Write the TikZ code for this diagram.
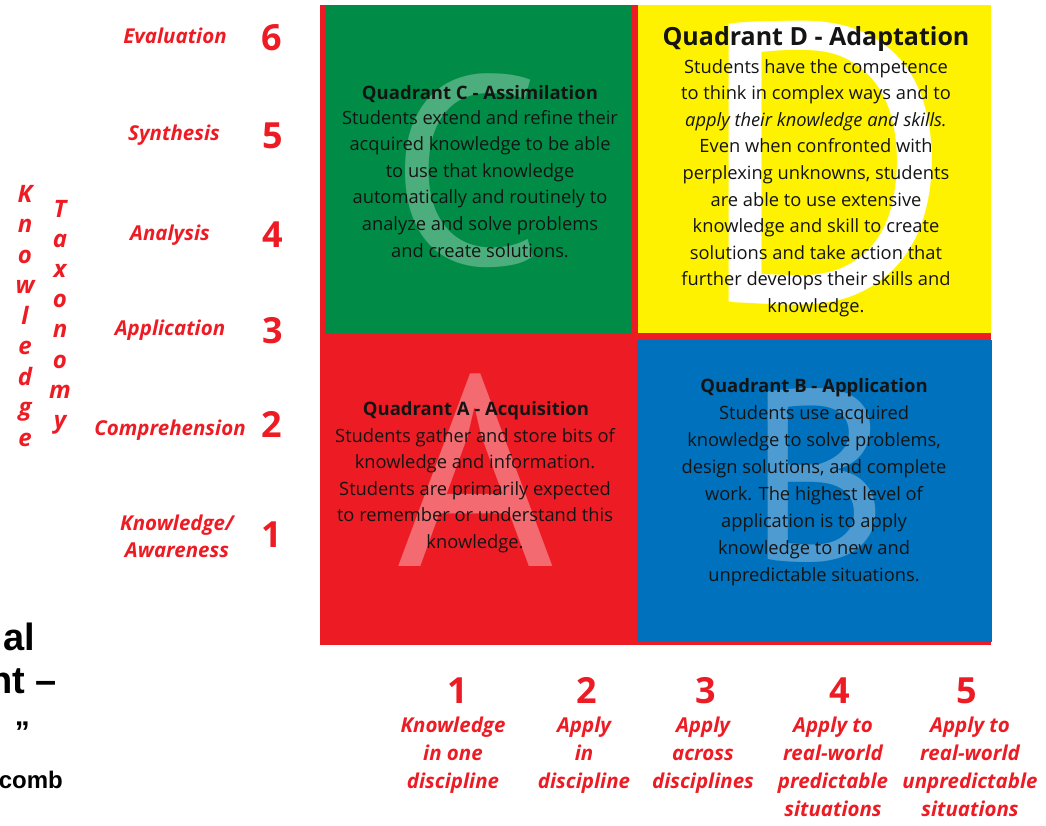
\documentclass[tikz,border=0pt]{standalone}
\usepackage{fontspec}
\setmainfont{Open Sans}
\newfontfamily\ptf{PT Sans}
\newfontfamily\arialf{Liberation Sans}
\definecolor{qred}{RGB}{237,28,36}
\definecolor{qgreen}{RGB}{0,140,70}
\definecolor{qyellow}{RGB}{255,242,0}
\definecolor{qblue}{RGB}{0,113,188}
\definecolor{qtext}{RGB}{20,20,20}
\begin{document}
\begin{tikzpicture}[x=1pt,y=-1pt,
  body/.style={anchor=base, inner sep=0, text=qtext, font=\fontsize{18.3}{20}\selectfont},
  qtitle/.style={anchor=base, inner sep=0, text=qtext},
  biglet/.style={inner sep=0, text=white},
  lvl/.style={anchor=base, inner sep=0, text=qred, font=\bfseries\itshape\fontsize{20.5}{24}\selectfont},
  num/.style={anchor=base, inner sep=0, text=qred, font=\bfseries\fontsize{36}{36}\selectfont},
  vlet/.style={anchor=base, inner sep=0, text=qred, font=\bfseries\itshape\fontsize{24}{24}\selectfont},
  side/.style={anchor=base east, inner sep=0, text=black}]
\clip (0,0) rectangle (1046,825);
% quadrants
\fill[qred] (320,5) rectangle (991,645);
\fill[qgreen] (325,5) rectangle (632,334);
\fill[qyellow] (638,5) rectangle (991,333);
\fill[qblue] (637,340) rectangle (992,642);
% big letters
\node[biglet, text opacity=0.3, font=\ptf\fontsize{268}{268}\selectfont] (bigc) at (467,171) {C};
\node[biglet, font=\ptf\fontsize{396}{396}\selectfont] (bigd) at (825,163) {D};
\node[biglet, text opacity=0.35, font=\ptf\fontsize{271}{271}\selectfont] (biga) at (476,470) {A};
\node[biglet, text opacity=0.3, font=\ptf\fontsize{243}{243}\selectfont] (bigb) at (818,475) {B};
% quadrant C
\node[qtitle, font=\bfseries\fontsize{18.5}{20}\selectfont] (ct) at (480,99) {Quadrant C - Assimilation};
\foreach \t [count=\i from 0] in {Students extend and refine their, acquired knowledge to be able, to use that knowledge, automatically and routinely to, analyze and solve problems, and create solutions.}
  \node[body] (c\i) at (480,124+26.6*\i) {\t};
% quadrant D
\node[qtitle, font=\bfseries\fontsize{25}{28}\selectfont] (dt) at (816,45) {Quadrant D - Adaptation};
\foreach \t [count=\i from 0] in {Students have the competence, to think in complex ways and to, \textit{apply their knowledge and skills.}, Even when confronted with, {perplexing unknowns, students}, are able to use extensive, knowledge and skill to create, solutions and take action that, further develops their skills and, knowledge.}
  \node[body] (d\i) at (816,73+26.6*\i) {\t};
% quadrant A
\node[qtitle, font=\bfseries\fontsize{18.5}{20}\selectfont] (at) at (476,415) {Quadrant A - Acquisition};
\foreach \t [count=\i from 0] in {Students gather and store bits of, knowledge and information., Students are primarily expected, to remember or understand this, knowledge.}
  \node[body] (a\i) at (475,442+26.5*\i) {\t};
% quadrant B
\node[qtitle, font=\bfseries\fontsize{18.5}{20}\selectfont] (bt) at (814,392) {Quadrant B - Application};
\foreach \t [count=\i from 0] in {Students use acquired, {knowledge to solve problems,}, {design solutions, and complete}, work. The highest level of, application is to apply, knowledge to new and, unpredictable situations.}
  \node[body] (b\i) at (814,419+27*\i) {\t};
% left levels
\node[lvl] (l6) at (175,43) {Evaluation};
\node[lvl] (l5) at (174,140) {Synthesis};
\node[lvl] (l4) at (170,240) {Analysis};
\node[lvl] (l3) at (170,335) {Application};
\node[lvl] (l2) at (170,435) {Comprehension};
\node[lvl] (l1a) at (177,530) {Knowledge/};
\node[lvl] (l1b) at (177,557) {Awareness};
\node[num] (n6) at (272,50) {6};
\node[num] (n5) at (273,148) {5};
\node[num] (n4) at (273,247) {4};
\node[num] (n3) at (273,343) {3};
\node[num] (n2) at (272,437) {2};
\node[num] (n1) at (272,547) {1};
% vertical words
\foreach \l [count=\i from 0] in {K,n,o,w,l,e,d,g,e}
  \node[vlet] (kw\i) at (25,202+30.5*\i) {\l};
\foreach \l [count=\i from 0] in {T,a,x,o,n,o,m,y}
  \node[vlet] (tx\i) at (60,217+30.2*\i) {\l};
% bottom scale
\node[num] (h1) at (458,703) {1};
\node[num] (h2) at (587,703) {2};
\node[num] (h3) at (706,703) {3};
\node[num] (h4) at (840,703) {4};
\node[num] (h5) at (967,703) {5};
\foreach \t [count=\i from 0] in {Knowledge, in one, discipline}
  \node[lvl] (p1\i) at (453,732+28*\i) {\t};
\foreach \t [count=\i from 0] in {Apply, in, discipline}
  \node[lvl] (p2\i) at (584,732+28*\i) {\t};
\foreach \t [count=\i from 0] in {Apply, across, disciplines}
  \node[lvl] (p3\i) at (703,732+28*\i) {\t};
\foreach \t [count=\i from 0] in {Apply to, real-world, predictable, situations}
  \node[lvl] (p4\i) at (833,732+28*\i) {\t};
\foreach \t [count=\i from 0] in {Apply to, real-world, unpredictable, situations}
  \node[lvl] (p5\i) at (970,732+28*\i) {\t};
% clipped side text
\node[side, font=\arialf\bfseries\fontsize{38}{38}\selectfont] (s1) at (35,650) {al};
\node[side, font=\arialf\bfseries\fontsize{38}{38}\selectfont] (s2) at (57,693) {nt –};
\node[side, font=\arialf\bfseries\fontsize{30}{30}\selectfont] (s3) at (30,742) {”};
\node[side, font=\arialf\bfseries\fontsize{24}{24}\selectfont] (s4) at (63,788) {comb};
\end{tikzpicture}
\end{document}
